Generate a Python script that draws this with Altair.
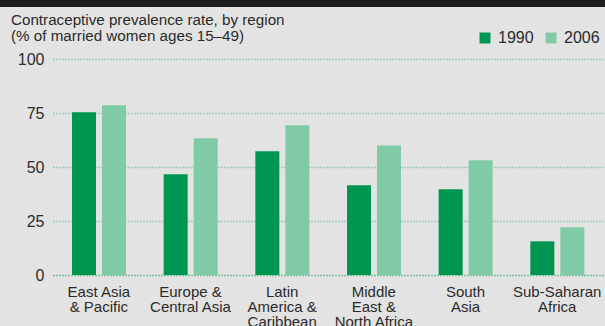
import altair as alt
import pandas as pd

# Data
regions = [
    "East Asia|& Pacific",
    "Europe &|Central Asia",
    "Latin|America &|Caribbean",
    "Middle|East &|North Africa",
    "South|Asia",
    "Sub-Saharan|Africa",
]
years = ["1990", "2006"]
values_1990 = [75.3, 46.6, 57.3, 41.5, 39.7, 15.6]
values_2006 = [78.6, 63.3, 69.3, 60.0, 53.1, 22.1]
title_lines = ["Contraceptive prevalence rate, by region", "(% of married women ages 15–49)"]
y_ticks = [0, 25, 50, 75, 100]

rows = []
for r, a, b in zip(regions, values_1990, values_2006):
    rows.append({"region": r, "year": "1990", "value": a})
    rows.append({"region": r, "year": "2006", "value": b})
df = pd.DataFrame(rows)

FONT = "Liberation Sans"
TEXT = "#2b2b2b"

bars = alt.Chart(df).mark_bar().encode(
    x=alt.X(
        "region:N",
        sort=regions,
        scale=alt.Scale(range=[1, 551], paddingInner=0, paddingOuter=0),
        axis=alt.Axis(
            title=None,
            labelAngle=0,
            ticks=False,
            domain=False,
            grid=False,
            labelExpr="split(datum.label, '|')",
            labelFont=FONT,
            labelFontSize=15,
            labelLineHeight=15,
            labelColor=TEXT,
            labelPadding=9,
            labelBaseline="top",
        ),
    ),
    xOffset=alt.XOffset(
        "year:N",
        sort=years,
        scale=alt.Scale(range=[19, 73], paddingInner=0.2, paddingOuter=0),
    ),
    y=alt.Y(
        "value:Q",
        scale=alt.Scale(domain=[0, 100], nice=False),
        axis=alt.Axis(
            title=None,
            values=y_ticks,
            ticks=False,
            domain=False,
            grid=True,
            labelFont=FONT,
            labelFontSize=16,
            labelColor=TEXT,
            labelPadding=8,
            gridDash=[1, 2],
            gridWidth=1.5,
            gridOpacity=1,
            gridColor={"condition": {"test": "datum.value === 0", "value": "#149a5e"}, "value": "#5fba92"},
        ),
    ),
    color=alt.Color(
        "year:N",
        sort=years,
        scale=alt.Scale(domain=years, range=["#009652", "#80caa8"]),
        legend=alt.Legend(
            title=None,
            orient="none",
            legendX=425,
            legendY=-29,
            direction="horizontal",
            symbolType="square",
            symbolSize=121,
            symbolStrokeWidth=0,
            labelFont=FONT,
            labelFontSize=16,
            labelColor=TEXT,
            labelOffset=5,
            columnPadding=9,
            padding=0,
        ),
    ),
)

title1 = alt.Chart(pd.DataFrame({"t": [title_lines[0]]})).mark_text(
    align="left", baseline="alphabetic", font=FONT, fontSize=15.2, color=TEXT
).encode(x=alt.value(-41), y=alt.value(-34), text="t:N")
title2 = alt.Chart(pd.DataFrame({"t": [title_lines[1]]})).mark_text(
    align="left", baseline="alphabetic", font=FONT, fontSize=15.2, color=TEXT
).encode(x=alt.value(-41), y=alt.value(-18.5), text="t:N")

band = alt.Chart(pd.DataFrame({"a": [0]})).mark_rect(color="#1c1c1c").encode(
    x=alt.value(-52), x2=alt.value(553), y=alt.value(-59), y2=alt.value(-52)
)

chart = alt.layer(bars, band, title1, title2).properties(
    width=553,
    height=216,
    autosize="none",
    padding={"left": 52, "top": 59, "right": 0, "bottom": 51},
    background="#e3e3e3",
).configure_view(stroke=None)

chart.save("out.html", embed_options={"renderer": "svg", "actions": False})
